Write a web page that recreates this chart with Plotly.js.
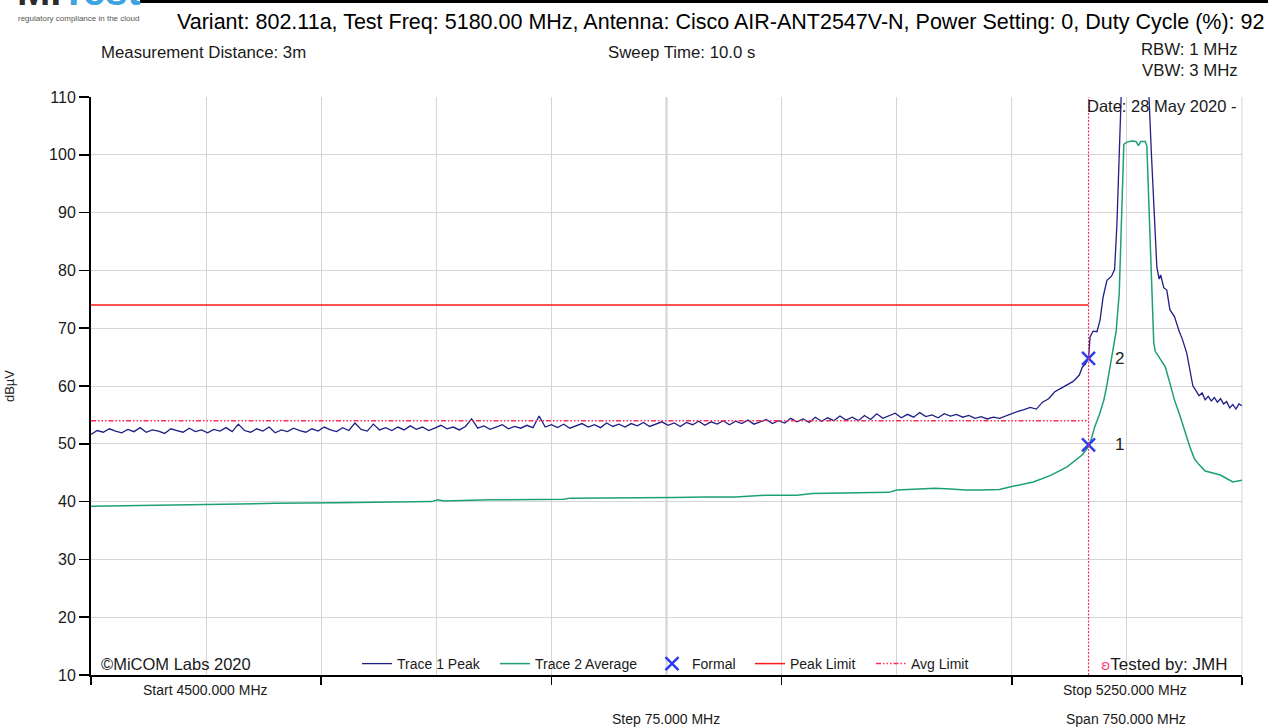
<!DOCTYPE html>
<html>
<head>
<meta charset="utf-8">
<script src="https://cdn.plot.ly/plotly-3.0.1.min.js"></script>
<style>
html,body{margin:0;padding:0;background:#fff;}
#chart{width:1268px;height:728px;}
</style>
</head>
<body>
<div id="chart"></div>
<script>
// ---- Data ----
const peakFreq = [
4500,4504,4508,4512,4516,4520,4524,4528,4532,4536,4540,4544,4548,4552,4556,4560,4564,4568,4572,4576,
4580,4584,4588,4592,4596,4600,4604,4608,4612,4616,4620,4624,4628,4632,4636,4640,4644,4648,4652,4656,
4660,4664,4668,4672,4676,4680,4684,4688,4692,4696,4700,4704,4708,4712,4716,4720,4724,4728,4732,4736,
4740,4744,4748,4752,4756,4760,4764,4768,4772,4776,4780,4784,4788,4792,4796,4800,4804,4808,4812,4816,
4820,4824,4828,4832,4836,4840,4844,4848,4852,4856,4860,4864,4868,4872,4876,4880,4884,4888,4892,4896,
4900,4904,4908,4912,4916,4920,4924,4928,4932,4936,4940,4944,4948,4952,4956,4960,4964,4968,4972,4976,
4980,4984,4988,4992,4996,5000,5004,5008,5012,5016,5020,5024,5028,5032,5036,5040,5044,5048,5052,5056,
5060,5064,5068,5072,5076,5080,5084,5088,5092,5096,5100,5104,5108,5112,5116,5120,5124,5128,5132,5136,
5140,5144,5146,5148,5150,5151,5153,5155.5,5157.5,5159.5,5162,5165,5167,5168.5,5170,5171.5,5180,5189.4,
5191,5193,5194.5,5196,5197,5199,5201,5203,5206,5209,5211,5214,5216,5218,5220,5222,5224,5226,5228,5230,
5232,5234,5236,5238,5240,5242,5244,5246,5248,5250
];
const peakLevel = [
51.6,52.3,52.0,52.6,52.2,51.9,52.5,52.1,52.8,52.0,52.4,52.2,51.8,52.6,52.3,52.0,52.7,52.1,52.4,51.9,
52.5,52.2,52.8,52.1,53.4,52.3,52.0,52.6,52.2,52.9,51.9,52.4,52.1,52.7,52.3,52.0,52.6,52.2,52.9,52.4,
52.1,52.8,52.3,53.6,52.5,52.2,53.4,52.4,52.8,52.3,52.9,52.4,53.1,52.5,52.9,52.3,52.7,53.2,52.6,52.9,
52.4,53.0,54.3,52.7,53.1,52.5,52.9,53.3,52.6,53.0,52.7,53.2,52.8,54.8,52.9,53.3,52.8,53.4,52.7,53.1,
53.5,52.9,53.3,52.8,53.6,53.0,53.4,52.9,53.5,53.1,53.7,53.0,53.4,53.8,53.2,53.6,53.0,53.7,53.3,53.9,
53.2,53.8,53.4,54.0,53.3,53.9,53.5,54.1,53.4,53.8,54.2,53.5,54.0,53.6,54.4,53.8,54.3,53.7,54.6,53.9,
54.5,54.0,54.8,54.1,54.6,54.0,54.9,54.2,55.2,54.4,54.9,55.3,54.5,55.1,54.6,55.4,54.7,55.0,54.5,55.2,
54.8,55.1,54.6,54.9,54.4,54.7,54.3,54.6,54.4,54.8,55.3,55.6,55.9,56.3,56.0,57.2,57.8,59.0,59.6,60.2,
60.8,61.9,63.3,63.8,64.8,68.5,69.5,69.4,71.4,75.4,78.3,79.0,80.2,88.0,100.0,112.0,113.0,110.0,
100.0,88.0,80.6,78.5,79.2,77.0,76.6,73.2,72.0,69.5,68.2,65.7,63.0,60.0,59.2,58.3,58.8,57.6,58.2,57.4,
58.0,57.2,57.8,56.9,57.3,56.2,56.8,56.0,56.9,56.6
];

const avgFreq = [
4500,4540,4580,4620,4660,4700,4722,4726,4730,4760,4790,4800,4808,4812,4840,4860,4880,4900,4920,4940,
4960,4970,4990,5000,5020,5025,5040,5050,5060,5070,5080,5092,5100,5114,5125,5136,5146,5150,5152,5154,
5157,5160,5162,5164,5166,5168,5170,5171.5,5173,5175,5178,5181,5182.5,5184,5187,5188,5189.5,5191,5192.5,5193.5,
5196,5200,5203,5206,5210,5213,5216,5219,5222,5226,5230,5236,5240,5244,5250
];
const avgLevel = [
39.2,39.4,39.5,39.7,39.8,39.9,40.0,40.3,40.1,40.3,40.4,40.5,40.4,40.6,40.6,40.6,40.7,40.8,40.8,41.1,
41.1,41.4,41.5,41.5,41.6,42.0,42.2,42.3,42.2,42.0,42.0,42.1,42.6,43.4,44.5,46.0,48.1,49.5,51.0,52.9,
55.0,57.6,60.2,63.3,66.5,69.5,76.0,88.0,101.8,102.2,102.4,102.3,101.6,102.3,102.3,101.5,90.0,78.0,67.5,66.0,
65.0,63.3,60.5,57.6,54.5,51.9,49.5,47.4,46.4,45.3,45.0,44.6,44.0,43.4,43.7
];

const markerFreq = [5150, 5150];
const markerLevel = [49.8, 64.8];
const markerLabels = ["1", "2"];

const limitFreq = [4500, 5150];
const peakLimit = [74, 74];
const avgLimit = [54, 54];
const bandEdge = 5150;

const yTicks = [10,20,30,40,50,60,70,80,90,100,110];

// ---- Styles ----
const FONT = "Liberation Sans, Arial, sans-serif";
const BLUE = "#1f1f86";
const GREEN = "#1f9f79";
const RED = "#ff1a1a";
const PINK = "#ff2a55";
const TXT = "#1a1a1a";

function px2paperX(p){ return (p - 91) / 1151; }
function px2paperY(p){ return (675 - p) / 578; }

const traces = [
  {x: peakFreq, y: peakLevel, type: "scatter", mode: "lines", name: "Trace 1 Peak", legend: "legend",
   line: {color: BLUE, width: 1.3}},
  {x: avgFreq, y: avgLevel, type: "scatter", mode: "lines", name: "Trace 2 Average", legend: "legend2",
   line: {color: GREEN, width: 1.5}},
  {x: markerFreq, y: markerLevel, type: "scatter", mode: "markers", name: "Formal", legend: "legend3",
   marker: {symbol: "x-thin", size: 13, color: "#2a3ff0", line: {color: "#2a3ff0", width: 2.5}}},
  {x: limitFreq, y: peakLimit, type: "scatter", mode: "lines", name: "Peak Limit", legend: "legend4",
   line: {color: RED, width: 1.5}},
  {x: limitFreq, y: avgLimit, type: "scatter", mode: "lines", name: "Avg Limit", legend: "legend5",
   line: {color: PINK, width: 1.5, dash: "5px,2px,1.5px,2px,1.5px,2px,1.5px,2px"}},
  {x: [bandEdge, bandEdge], y: [yTicks[0], yTicks[yTicks.length-1]], type: "scatter", mode: "lines",
   showlegend: false, line: {color: PINK, width: 1.2, dash: "2px,1.5px"}}
];

function mkLegend(px){
  return {orientation: "h", x: px2paperX(px), y: px2paperY(664), xanchor: "left", yanchor: "middle",
    bgcolor: "rgba(0,0,0,0)", borderwidth: 0, font: {family: FONT, size: 14, color: TXT}, itemwidth: 30};
}

const annotations = [
  {text: "<b>Mi</b><span style='color:#3fa3e0'><b>Test</b></span>", xref: "paper", yref: "paper",
   x: px2paperX(15), y: px2paperY(15), xanchor: "left", yanchor: "bottom", showarrow: false,
   font: {family: FONT, size: 40, color: "#2b2b2b"}},
  {text: "regulatory compliance in the cloud", xref: "paper", yref: "paper",
   x: px2paperX(16), y: px2paperY(18), xanchor: "left", yanchor: "middle", showarrow: false,
   font: {family: FONT, size: 8, color: "#555"}},
  {text: "Variant: 802.11a, Test Freq: 5180.00 MHz, Antenna: Cisco AIR-ANT2547V-N, Power Setting: 0, Duty Cycle (%): 92",
   xref: "paper", yref: "paper", x: px2paperX(175), y: px2paperY(22), xanchor: "left", yanchor: "middle",
   showarrow: false, font: {family: FONT, size: 21.5, color: "#000"}},
  {text: "Measurement Distance: 3m", xref: "paper", yref: "paper", x: px2paperX(99), y: px2paperY(52),
   xanchor: "left", yanchor: "middle", showarrow: false, font: {family: FONT, size: 16.8, color: TXT}},
  {text: "Sweep Time: 10.0 s", xref: "paper", yref: "paper", x: px2paperX(681), y: px2paperY(52),
   xanchor: "center", yanchor: "middle", showarrow: false, font: {family: FONT, size: 16.8, color: TXT}},
  {text: "RBW: 1 MHz", xref: "paper", yref: "paper", x: px2paperX(1240), y: px2paperY(50),
   xanchor: "right", yanchor: "middle", showarrow: false, font: {family: FONT, size: 16.8, color: TXT}},
  {text: "VBW: 3 MHz", xref: "paper", yref: "paper", x: px2paperX(1240), y: px2paperY(71),
   xanchor: "right", yanchor: "middle", showarrow: false, font: {family: FONT, size: 16.8, color: TXT}},
  {text: "Date: 28 May 2020 -", xref: "paper", yref: "paper", x: px2paperX(1085), y: px2paperY(106),
   xanchor: "left", yanchor: "middle", showarrow: false, font: {family: FONT, size: 16.5, color: TXT}},
  {text: "©MiCOM Labs 2020", xref: "paper", yref: "paper", x: px2paperX(99), y: px2paperY(664),
   xanchor: "left", yanchor: "middle", showarrow: false, font: {family: FONT, size: 16.5, color: TXT}},
  {text: "<span style='color:#ff4477;font-family:DejaVu Sans;font-size:14px'>ʚ</span>Tested by: JMH", xref: "paper", yref: "paper",
   x: px2paperX(1099), y: px2paperY(664),
   xanchor: "left", yanchor: "middle", showarrow: false, font: {family: FONT, size: 17, color: TXT}},
  {text: "Start 4500.000 MHz", xref: "paper", yref: "paper", x: px2paperX(205), y: px2paperY(690),
   xanchor: "center", yanchor: "middle", showarrow: false, font: {family: FONT, size: 14, color: TXT}},
  {text: "Stop 5250.000 MHz", xref: "paper", yref: "paper", x: px2paperX(1125), y: px2paperY(690),
   xanchor: "center", yanchor: "middle", showarrow: false, font: {family: FONT, size: 14, color: TXT}},
  {text: "Step 75.000 MHz", xref: "paper", yref: "paper", x: px2paperX(666), y: px2paperY(719),
   xanchor: "center", yanchor: "middle", showarrow: false, font: {family: FONT, size: 14, color: TXT}},
  {text: "Span 750.000 MHz", xref: "paper", yref: "paper", x: px2paperX(1126), y: px2paperY(719),
   xanchor: "center", yanchor: "middle", showarrow: false, font: {family: FONT, size: 14, color: TXT}}
];
markerFreq.forEach((f, i) => {
  annotations.push({text: markerLabels[i], x: f, y: markerLevel[i], xref: "x", yref: "y",
    xshift: 31, showarrow: false, font: {family: FONT, size: 17, color: "#222"}});
});

const layout = {
  width: 1268, height: 728,
  margin: {l: 91, r: 26, t: 97, b: 53, pad: 0},
  paper_bgcolor: "#fff", plot_bgcolor: "#fff",
  font: {family: FONT, color: TXT},
  showlegend: true,
  legend: mkLegend(357),
  legend2: mkLegend(495),
  legend3: mkLegend(652),
  legend4: mkLegend(750),
  legend5: mkLegend(871),
  xaxis: {range: [4500, 5250], tick0: 4500, dtick: 150, ticks: "outside", ticklen: 8, tickwidth: 1.5,
    tickcolor: "#000", showticklabels: false, showline: true, linecolor: "#000", linewidth: 2,
    showgrid: true, gridcolor: "#d6d6d6", gridwidth: 1, zeroline: false, mirror: false,
    minor: {dtick: 75, tick0: 4500, showgrid: true, gridcolor: "#d6d6d6", gridwidth: 1, ticks: ""}},
  yaxis: {range: [10, 110], tickvals: yTicks, ticks: "outside", ticklen: 10, tickwidth: 1.5,
    tickcolor: "#000", showline: true, linecolor: "#000", linewidth: 2, showgrid: true,
    gridcolor: "#d6d6d6", gridwidth: 1, zeroline: false, tickfont: {family: FONT, size: 16, color: TXT},
    title: {text: "dBµV", font: {family: FONT, size: 13, color: TXT}, standoff: 32}},
  shapes: [
    {type: "line", xref: "paper", yref: "paper", x0: px2paperX(140), x1: px2paperX(1268),
     y0: px2paperY(1.5), y1: px2paperY(1.5), line: {color: "#000", width: 3}},
    {type: "line", xref: "x", yref: "paper", x0: 4875, x1: 4875, y0: 0, y1: 1,
     line: {color: "#9a9a9a", width: 1.5}, layer: "below"},
    {type: "line", xref: "paper", yref: "paper", x0: 1, x1: 1, y0: 0, y1: 1,
     line: {color: "#d6d6d6", width: 1}, layer: "below"}
  ],
  annotations: annotations
};

Plotly.newPlot("chart", traces, layout, {displayModeBar: false, staticPlot: true});
</script>
</body>
</html>
